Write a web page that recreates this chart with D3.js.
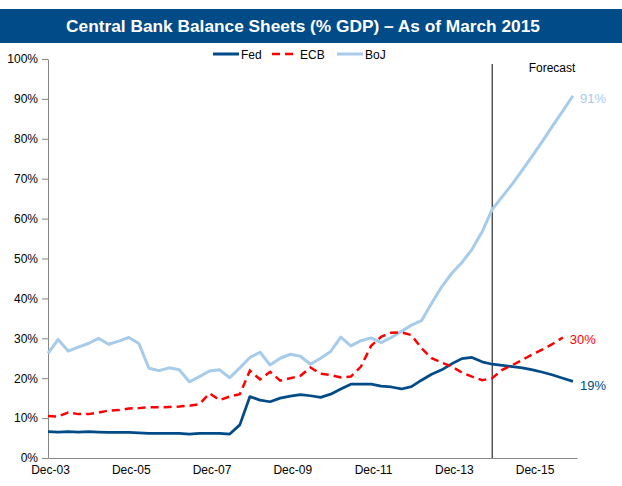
<!DOCTYPE html>
<html>
<head>
<meta charset="utf-8">
<script src="https://cdn.jsdelivr.net/npm/d3@7"></script>
<style>
  html, body { margin: 0; padding: 0; background: #fff; }
  svg { display: block; font-family: "Liberation Sans", Arial, sans-serif; }
</style>
</head>
<body>
<svg id="chart" width="622" height="486"></svg>
<script>
// Quarterly data from Dec-03 (% of GDP)
const fed = [6.6, 6.5, 6.6, 6.5, 6.6, 6.5, 6.4, 6.4, 6.4, 6.3,
             6.2, 6.2, 6.2, 6.2, 6.0, 6.2, 6.2, 6.2, 6.0, 8.3,
             15.4, 14.5, 14.1, 15.0, 15.5, 15.9, 15.6, 15.2, 16.0, 17.3,
             18.5, 18.5, 18.5, 18.0, 17.8, 17.3, 17.9, 19.5, 21.0, 22.1,
             23.6, 24.9, 25.2, 24.1, 23.5, 23.2, 22.9, 22.6, 22.1, 21.5,
             20.8, 20.0, 19.2];
const ecb = [10.5, 10.4, 11.4, 11.0, 11.0, 11.4, 11.9, 12.0, 12.4, 12.5,
             12.7, 12.7, 12.8, 12.9, 13.1, 13.5, 16.2, 14.5, 15.4, 16.0,
             21.9, 19.7, 21.6, 19.4, 20.0, 20.6, 22.7, 21.1, 20.8, 20.2,
             20.4, 22.9, 28.1, 30.4, 31.4, 31.5, 30.8, 27.5, 25.0, 23.9,
             22.9, 21.4, 20.4, 19.5, 20.0, 22.1, 23.3, 24.6, 26.0, 27.2,
             28.6, 30.2];
const boj = [26.2, 29.7, 26.8, 27.8, 28.7, 30.0, 28.5, 29.3, 30.2, 28.7,
             22.5, 21.9, 22.6, 22.1, 19.1, 20.4, 21.8, 22.1, 20.1, 22.6,
             25.2, 26.5, 23.3, 25.0, 26.0, 25.5, 23.5, 25.0, 26.7, 30.3,
             28.1, 29.4, 30.1, 28.9, 30.2, 31.7, 33.3, 34.4, 38.8, 42.9,
             46.3, 49.0, 52.3, 56.7, 62.3, 65.5, 68.7, 72.2, 75.8, 79.5,
             83.3, 87.0, 90.8];
const xTickLabels = ["Dec-03", "Dec-05", "Dec-07", "Dec-09", "Dec-11", "Dec-13", "Dec-15"];
const xTickIndex = [0, 8, 16, 24, 32, 40, 48];
const yTicks = [0, 10, 20, 30, 40, 50, 60, 70, 80, 90, 100];
const forecastIndex = 44;
const seriesNames = ["Fed", "ECB", "BoJ"];
const endLabels = ["19%", "30%", "91%"];

const colors = { Fed: "#004B88", ECB: "#FF0000", BoJ: "#A6CBEB" };

const svg = d3.select("#chart");
const W = 622;

// Title bar
svg.append("rect").attr("x", 0).attr("y", 9).attr("width", W).attr("height", 34).attr("fill", "#004B88");
svg.append("text").attr("x", 303).attr("y", 32).attr("text-anchor", "middle")
  .attr("fill", "#fff").attr("font-weight", "bold").attr("font-size", 17.3)
  .text("Central Bank Balance Sheets (% GDP) \u2013 As of March 2015");

const x = d3.scaleLinear().domain([0, 52.4]).range([48, 577]);
const y = d3.scaleLinear().domain([0, 100]).range([458, 59]);

// Y axis
const yAxis = d3.axisLeft(y).tickValues(yTicks).tickFormat(d => d + "%").tickSize(6).tickSizeOuter(0).tickPadding(4);
const gy = svg.append("g").attr("transform", "translate(48,0)").call(yAxis);
gy.selectAll("path, line").attr("stroke", "#868686");
gy.selectAll("text").attr("font-size", 12).attr("fill", "#000").attr("font-family", "Liberation Sans, Arial, sans-serif");

// X axis
const xAxis = d3.axisBottom(x).tickValues(xTickIndex).tickFormat((d, i) => xTickLabels[i]).tickSize(0).tickPadding(7);
const gx = svg.append("g").attr("transform", "translate(0,458)").call(xAxis);
gx.selectAll("path").attr("stroke", "#868686");
gx.selectAll("text").attr("font-size", 12).attr("fill", "#000").attr("dx", 2).attr("font-family", "Liberation Sans, Arial, sans-serif");

// Forecast line
svg.append("line").attr("x1", x(forecastIndex)).attr("x2", x(forecastIndex))
  .attr("y1", 64).attr("y2", 458).attr("stroke", "#000").attr("stroke-width", 1);
svg.append("text").attr("x", 552).attr("y", 72).attr("text-anchor", "middle")
  .attr("font-size", 12).attr("fill", "#000").text("Forecast");

const line = d3.line().x((d, i) => x(i)).y(d => y(d));

svg.append("path").datum(boj).attr("d", line).attr("fill", "none")
  .attr("stroke", colors.BoJ).attr("stroke-width", 3).attr("stroke-linejoin", "round");
svg.append("path").datum(fed).attr("d", line).attr("fill", "none")
  .attr("stroke", colors.Fed).attr("stroke-width", 2.75).attr("stroke-linejoin", "round");
svg.append("path").datum(ecb).attr("d", line).attr("fill", "none")
  .attr("stroke", colors.ECB).attr("stroke-width", 2.5).attr("stroke-dasharray", "8,5");

// End labels
const endData = [fed, ecb, boj];
const endOffsets = [4, 1, 2];
seriesNames.forEach((name, k) => {
  const arr = endData[k];
  svg.append("text").attr("x", x(arr.length - 1) + 7).attr("y", y(arr[arr.length - 1]) + endOffsets[k] + 5)
    .attr("font-size", 13).attr("fill", colors[name]).text(endLabels[k]);
});

// Legend
const legendX = [213, 272, 337];
seriesNames.forEach((name, k) => {
  const g = svg.append("g").attr("transform", `translate(${legendX[k]},54)`);
  g.append("line").attr("x1", 0).attr("x2", 26).attr("y1", 0).attr("y2", 0)
    .attr("stroke", colors[name]).attr("stroke-width", name === "ECB" ? 2.5 : 3)
    .attr("stroke-dasharray", name === "ECB" ? "8,5" : null);
  g.append("text").attr("x", 28).attr("y", 4.5).attr("font-size", 12).attr("fill", "#000").text(name);
});
</script>
</body>
</html>
